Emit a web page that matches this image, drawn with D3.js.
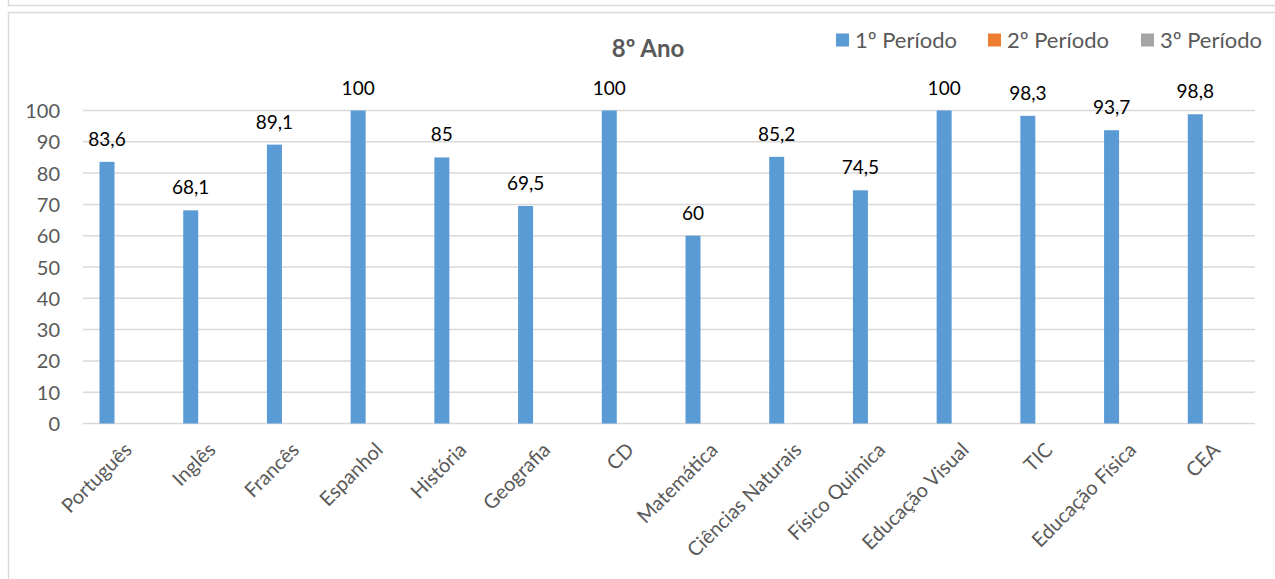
<!DOCTYPE html>
<html><head><meta charset="utf-8">
<script src="https://cdn.jsdelivr.net/npm/d3@7"></script>
<style>body{margin:0;background:#fff;}svg{display:block;font-family:Lato,"Open Sans",sans-serif;}</style>
</head><body>
<svg id="c" width="1275" height="579"></svg>
<script>
const categories = ["Português","Inglês","Francês","Espanhol","História","Geografia","CD","Matemática","Ciências Naturais","Físico Quimica","Educação Visual","TIC","Educação Física","CEA"];
const seriesNames = ["1º Período","2º Período","3º Período"];
const seriesColors = ["#5B9BD5","#ED7D31","#A5A5A5"];
const periodo1 = [83.6,68.1,89.1,100,85,69.5,100,60,85.2,74.5,100,98.3,93.7,98.8];
const periodo2 = [null,null,null,null,null,null,null,null,null,null,null,null,null,null];
const periodo3 = [null,null,null,null,null,null,null,null,null,null,null,null,null,null];
const yTicks = [0,10,20,30,40,50,60,70,80,90,100];
const title = "8º Ano";

(function(){
const seriesData = [periodo1, periodo2, periodo3];
const svg = d3.select("#c");
const grid = "#D9D9D9", txt = "#595959";

svg.append("path").attr("d","M8.5,0 V5.5 H1275").attr("fill","none").attr("stroke",grid).attr("stroke-width",1.5);
svg.append("path").attr("d","M1280,12.5 H8.5 V590").attr("fill","none").attr("stroke",grid).attr("stroke-width",1.5);

const pl = 83, pr = 1255, pt = 110.5, pb = 423.5;
const x0 = d3.scaleBand().domain(categories).range([pl,pr]).padding(0);
const x1 = d3.scaleBand().domain(seriesNames).range([0,x0.bandwidth()]).paddingInner(0.16).paddingOuter(0.924);
const y = d3.scaleLinear().domain([0,100]).range([pb,pt]);

svg.append("g").selectAll("line").data(yTicks).join("line")
  .attr("x1",pl).attr("x2",pr).attr("y1",d=>y(d)).attr("y2",d=>y(d))
  .attr("stroke",grid).attr("stroke-width",1.5);

const yAxis = d3.axisLeft(y).tickValues(yTicks).tickSize(0).tickPadding(0);
const ga = svg.append("g").attr("transform",`translate(60,0)`).call(yAxis);
ga.select(".domain").remove();
ga.selectAll("text").attr("fill",txt).attr("font-size",20).attr("font-family","Lato,sans-serif").attr("dy","0.35em");

seriesData.forEach((vals,si)=>{
  const g = svg.append("g");
  const pts = categories.map((c,i)=>({c,v:vals[i]})).filter(d=>d.v!=null);
  g.selectAll("rect").data(pts).join("rect")
    .attr("x",d=>x0(d.c)+x1(seriesNames[si]))
    .attr("width",x1.bandwidth())
    .attr("y",d=>y(d.v)).attr("height",d=>y(0)-y(d.v))
    .attr("fill",seriesColors[si]);
  g.selectAll("text").data(pts).join("text")
    .attr("x",d=>x0(d.c)+x1(seriesNames[si])+x1.bandwidth()/2)
    .attr("y",d=>y(d.v)-16)
    .attr("text-anchor","middle").attr("font-size",19).attr("fill","#000")
    .text(d=>String(d.v).replace(".",","));
});

const xl = svg.append("g");
xl.selectAll("text").data(categories).join("text")
  .attr("transform",d=>`translate(${x0(d)+x0.bandwidth()/2-2},${441}) rotate(-45)`)
  .attr("text-anchor","end").attr("dy","0.72em")
  .attr("font-size",20).attr("fill",txt).text(d=>d);

svg.append("text").attr("x",648).attr("y",57).attr("text-anchor","middle")
  .attr("font-size",24).attr("font-weight","bold").attr("fill",txt).text(title);

const legX = [836,988,1141];
const lg = svg.append("g");
seriesNames.forEach((s,i)=>{
  lg.append("rect").attr("x",legX[i]).attr("y",33.5).attr("width",13).attr("height",13).attr("fill",seriesColors[i]);
  lg.append("text").attr("x",legX[i]+19).attr("y",40).attr("dy","0.35em").attr("font-size",22).attr("fill",txt).text(s);
});
})();
</script>
</body></html>
